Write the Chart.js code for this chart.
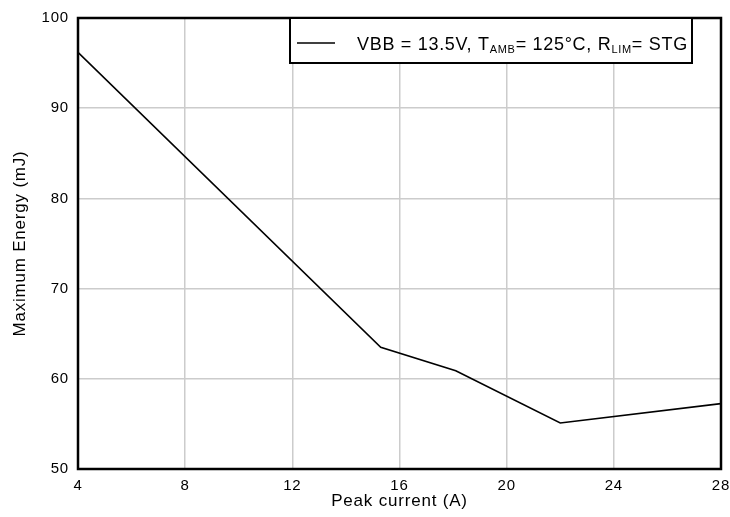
<!DOCTYPE html>
<html>
<head>
<meta charset="utf-8">
<script src="https://cdn.jsdelivr.net/npm/chart.js@4.4.0/dist/chart.umd.min.js"></script>
<style>
  html, body { margin: 0; padding: 0; background: #fff; }
  #wrap { width: 730px; height: 517px; }
</style>
</head>
<body>
<div id="wrap"><canvas id="energyChart"></canvas></div>
<script>
// Peak current (A) vs maximum energy (mJ)
const peakCurrent = [4, 15.3, 18.1, 22, 28];
const maxEnergy = [96.2, 63.5, 60.9, 55.1, 57.25];

const xTicks = [4, 8, 12, 16, 20, 24, 28];
const yTicks = [50, 60, 70, 80, 90, 100];

const FONT = 'Liberation Sans, Arial, sans-serif';

// the reference text is set a bit loose, so widen the spacing a little
const spacingPlugin = {
    id: 'spacing',
    beforeDraw(chart) {
        chart.ctx.letterSpacing = '0.8px';
    }
};

// frame around the plot and the legend with subscripts
const framePlugin = {
    id: 'frame',
    afterDraw(chart) {
        const { ctx, chartArea: a } = chart;
        ctx.save();
        ctx.strokeStyle = '#000';
        ctx.lineWidth = 2.5;
        ctx.strokeRect(a.left, a.top, a.right - a.left, a.bottom - a.top);

        // legend box
        const bx = 290, by = a.top, bw = 402, bh = 45;
        ctx.fillStyle = '#fff';
        ctx.fillRect(bx, by, bw, bh);
        ctx.lineWidth = 2;
        ctx.strokeRect(bx, by, bw, bh);

        const cy = by + 25;
        ctx.lineWidth = 1.5;
        ctx.beginPath();
        ctx.moveTo(297, cy);
        ctx.lineTo(335, cy);
        ctx.stroke();

        const parts = [
            ['VBB = 13.5V, T', false],
            ['AMB', true],
            ['= 125°C, R', false],
            ['LIM', true],
            ['= STG', false]
        ];
        let x = 357;
        ctx.fillStyle = '#000';
        ctx.textBaseline = 'alphabetic';
        ctx.textAlign = 'left';
        ctx.letterSpacing = '0.7px';
        for (const [txt, sub] of parts) {
            ctx.font = (sub ? '11px ' : '18px ') + FONT;
            ctx.fillText(txt, x, sub ? cy + 10 : cy + 6.5);
            x += ctx.measureText(txt).width;
        }
        ctx.restore();
    }
};

new Chart(document.getElementById('energyChart'), {
    type: 'line',
    data: {
        datasets: [{
            label: 'VBB = 13.5V, TAMB= 125°C, RLIM= STG',
            data: peakCurrent.map((v, i) => ({ x: v, y: maxEnergy[i] })),
            borderColor: '#000',
            borderWidth: 1.6,
            pointRadius: 0,
            tension: 0,
            fill: false
        }]
    },
    options: {
        responsive: true,
        maintainAspectRatio: false,
        animation: false,
        layout: { padding: { left: 0, right: 9, top: 17, bottom: 0 } },
        plugins: {
            legend: { display: false },
            tooltip: { enabled: false }
        },
        scales: {
            x: {
                type: 'linear',
                min: 4,
                max: 28,
                afterBuildTicks: (s) => { s.ticks = xTicks.map(v => ({ value: v })); },
                afterFit: (s) => { s.height = 48; s.paddingLeft = 0; s.paddingRight = 0; },
                grid: { color: '#cccccc', lineWidth: 1.5, drawTicks: false },
                border: { display: false },
                ticks: { color: '#000', font: { family: FONT, size: 15 }, padding: 8, maxRotation: 0 },
                title: { display: true, text: 'Peak current (A)', color: '#000', font: { family: FONT, size: 17 }, padding: { top: 0, bottom: 5 } }
            },
            y: {
                min: 50,
                max: 100,
                afterBuildTicks: (s) => { s.ticks = yTicks.map(v => ({ value: v })); },
                afterFit: (s) => { s.width = 78; },
                grid: { color: '#cccccc', lineWidth: 1.5, drawTicks: false },
                border: { display: false },
                ticks: { color: '#000', font: { family: FONT, size: 15 }, padding: 9 },
                title: { display: true, text: 'Maximum Energy (mJ)', color: '#000', font: { family: FONT, size: 17 }, padding: { top: 10, bottom: 0 } }
            }
        }
    },
    plugins: [spacingPlugin, framePlugin]
});
</script>
</body>
</html>
